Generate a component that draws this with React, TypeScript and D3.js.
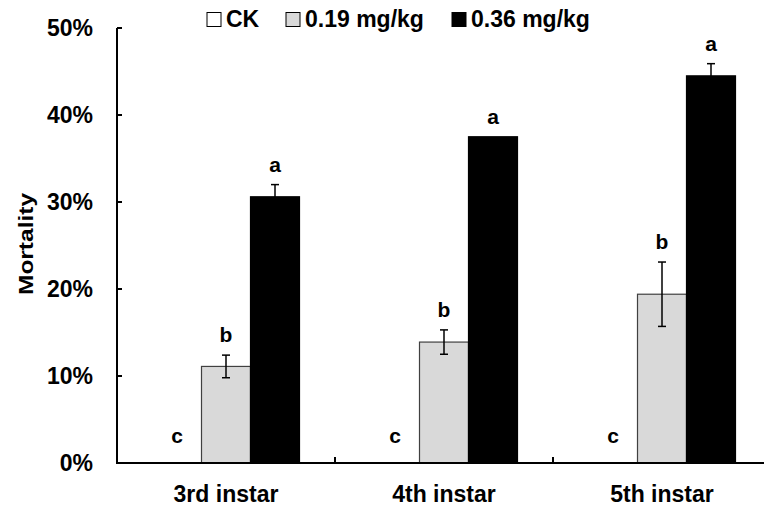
import * as d3 from 'd3';

const categories = ['3rd instar', '4th instar', '5th instar'];
const seriesNames = ['CK', '0.19 mg/kg', '0.36 mg/kg'];
const ckValues = [0, 0, 0];
const lowValues = [0.111, 0.139, 0.194];
const highValues = [0.306, 0.375, 0.445];
const ckErrors = [0, 0, 0];
const lowErrors = [0.013, 0.014, 0.037];
const highErrors = [0.014, 0, 0.014];
const ckLetters = ['c', 'c', 'c'];
const lowLetters = ['b', 'b', 'b'];
const highLetters = ['a', 'a', 'a'];
const yTicks = [0, 0.1, 0.2, 0.3, 0.4, 0.5];

const fills = ['#ffffff', '#d9d9d9', '#000000'];
const strokes = ['#000000', '#404040', '#000000'];

const width = 764;
const height = 510;
const margin = { top: 28, left: 117, bottom: 47 };
const font = 'Liberation Sans, Arial, sans-serif';

export default function App() {
  const y = d3.scaleLinear().domain([0, 0.5]).range([height - margin.bottom, margin.top]);
  const x = d3.scaleBand().domain(categories).range([margin.left, margin.left + 218 * 3]);
  const groupWidth = 147;
  const xs = d3.scaleBand().domain(seriesNames).range([-groupWidth / 2, groupWidth / 2]);

  const values = [ckValues, lowValues, highValues];
  const errors = [ckErrors, lowErrors, highErrors];
  const letters = [ckLetters, lowLetters, highLetters];
  const y0 = y(0);

  const legendX = [207, 286, 452];

  return (
    <svg width={width} height={height} style={{ position: 'absolute', left: 0, top: 0 }}>
      <rect width={width} height={height} fill="#fff" />

      {/* bars */}
      {seriesNames.map((s, si) =>
        categories.map((c, ci) => {
          const bx = x(c)! + x.bandwidth() / 2 + xs(s)!;
          const v = values[si][ci];
          const e = errors[si][ci];
          const cx = bx + xs.bandwidth() / 2;
          const top = y(v + e);
          const ly = Math.min(top - 13, y0 - 20);
          return (
            <g key={s + c}>
              {v > 0 && (
                <rect x={bx} y={y(v)} width={xs.bandwidth()} height={y0 - y(v)}
                  fill={fills[si]} stroke={strokes[si]} strokeWidth={1.2} />
              )}
              {e > 0 && (
                <g stroke="#000" strokeWidth={1.5}>
                  <line x1={cx} x2={cx} y1={y(v - e)} y2={y(v + e)} />
                  <line x1={cx - 4} x2={cx + 4} y1={y(v + e)} y2={y(v + e)} />
                  <line x1={cx - 4} x2={cx + 4} y1={y(v - e)} y2={y(v - e)} />
                </g>
              )}
              <text x={cx} y={ly} textAnchor="middle" fontFamily={font} fontWeight="bold"
                fontSize={21}>{letters[si][ci]}</text>
            </g>
          );
        })
      )}

      {/* y axis */}
      <line x1={margin.left} x2={margin.left} y1={margin.top} y2={y0} stroke="#000" strokeWidth={2} />
      {yTicks.map(t => (
        <g key={t}>
          <line x1={margin.left} x2={margin.left + 5} y1={y(t)} y2={y(t)} stroke="#000" strokeWidth={2} />
          <text x={93} y={y(t)} dy="0.35em" textAnchor="end" fontFamily={font} fontWeight="bold"
            fontSize={23}>{d3.format('.0%')(t)}</text>
        </g>
      ))}
      <text transform={`translate(33, 244) rotate(-90)`} textAnchor="middle" fontFamily={font}
        fontWeight="bold" fontSize={21} textLength={102} lengthAdjust="spacingAndGlyphs">Mortality</text>

      {/* x axis */}
      <line x1={margin.left - 1} x2={margin.left + 218 * 3} y1={y0} y2={y0} stroke="#000" strokeWidth={2} />
      {categories.map((c, i) => (
        <g key={c}>
          {i > 0 && (
            <line x1={x(c)} x2={x(c)} y1={y0} y2={y0 - 6} stroke="#000" strokeWidth={2} />
          )}
          <text x={x(c)! + x.bandwidth() / 2} y={502} textAnchor="middle" fontFamily={font}
            fontWeight="bold" fontSize={23}>{c}</text>
        </g>
      ))}

      {/* legend */}
      {seriesNames.map((s, i) => (
        <g key={s}>
          <rect x={legendX[i]} y={12.5} width={14} height={14} fill={fills[i]} stroke="#000" strokeWidth={1} />
          <text x={legendX[i] + 19} y={27} fontFamily={font} fontWeight="bold" fontSize={23}>{s}</text>
        </g>
      ))}
    </svg>
  );
}
